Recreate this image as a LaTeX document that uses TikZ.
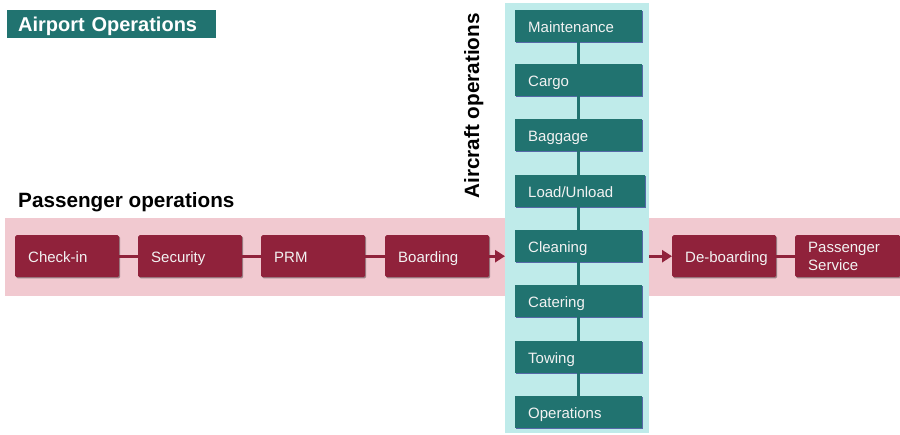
\documentclass[tikz,border=0pt]{standalone}
\usepackage{fontspec}
\setmainfont{Liberation Sans}
\usetikzlibrary{shadows,arrows.meta}
\definecolor{paxred}{HTML}{90223B}
\definecolor{paxband}{HTML}{F1C9D0}
\definecolor{acteal}{HTML}{217370}
\definecolor{acband}{HTML}{BFEBEA}
\definecolor{boxtext}{HTML}{F2F2F2}
\begin{document}
\begin{tikzpicture}[x=1pt,y=-1pt,
  paxbox/.style={fill=paxred, text=boxtext, rounded corners=1.5pt, anchor=north west,
    minimum height=42pt, text width=78pt, inner xsep=13pt, inner ysep=2pt, align=left,
    text height=13pt, text depth=1pt,
    font=\fontsize{15}{17}\selectfont,
    drop shadow={shadow xshift=1pt, shadow yshift=-1.2pt, fill=black, opacity=0.35}},
  acbox/.style={fill=acteal, text=boxtext, anchor=north west,
    minimum height=32pt, text width=101pt, inner xsep=13pt, inner ysep=2pt, align=left,
    text height=13pt, text depth=1pt,
    font=\fontsize{15}{17}\selectfont,
    drop shadow={shadow xshift=0.8pt, shadow yshift=-1.2pt, fill=blue!45!black, opacity=0.55}},
  paxlink/.style={draw=paxred, line width=3pt},
  paxarrow/.style={draw=paxred, line width=3pt, -{Triangle[length=10pt,width=12pt]}},
  aclink/.style={draw=acteal, line width=3pt},
  heading/.style={font=\bfseries\fontsize{20.7}{22}\selectfont, inner sep=0pt},
]
\useasboundingbox (0,0) rectangle (900,434);

% background bands
\node[fill=paxband, anchor=north west, minimum width=895pt, minimum height=78pt, inner sep=0pt] (band) at (5,218) {};
\node[fill=acband, anchor=north west, minimum width=144pt, minimum height=430pt, inner sep=0pt] (col) at (505,3) {};

% title
\node[fill=acteal, text=white, anchor=north west, minimum width=209pt, minimum height=28pt,
  text width=187pt, inner xsep=11pt, inner ysep=0pt, align=left,
  text height=16pt, text depth=0.6pt,
  font=\bfseries\fontsize{20}{22}\selectfont] (title) at (7,10) {Airport Operations};

% headings
\node[heading, anchor=base west] (paxhead) at (18,207) {Passenger operations};
\node[heading, rotate=90, anchor=base] (achead) at (479,106) {Aircraft operations};

% passenger process
\node[paxbox] (checkin)  at (15,235)  {Check-in};
\node[paxbox] (security) at (138,235) {Security};
\node[paxbox] (prm)      at (261,235) {PRM};
\node[paxbox] (boarding) at (385,235) {Boarding};
\node[paxbox] (deboard)  at (672,235) {\hbox to 78pt{De-boarding\hss}};
\node[paxbox, text width=79pt, text height=, text depth=, font=\fontsize{15}{17.5}\selectfont] (service) at (795,235) {Passenger\\Service};

% aircraft process
\node[acbox] (maint)    at (515,10)  {Maintenance};
\node[acbox] (cargo)    at (515,64)  {Cargo};
\node[acbox] (baggage)  at (515,119) {Baggage};
\node[acbox, text width=104pt] (load) at (515,175) {Load/Unload};
\node[acbox] (cleaning) at (515,230) {Cleaning};
\node[acbox] (catering) at (515,285) {Catering};
\node[acbox] (towing)   at (515,341) {Towing};
\node[acbox] (ops)      at (515,396) {Operations};

% connectors
\draw[paxlink] (checkin.east) -- (security.west);
\draw[paxlink] (security.east) -- (prm.west);
\draw[paxlink] (prm.east) -- (boarding.west);
\draw[paxlink] (deboard.east) -- (service.west);
\draw[paxarrow] (boarding.east) -- (col.west |- boarding.east);
\draw[paxarrow] (col.east |- deboard.west) -- (deboard.west);

\draw[aclink] (maint.south -| cargo.north) -- (cargo.north);
\draw[aclink] (cargo.south) -- (baggage.north);
\draw[aclink] (baggage.south) -- (baggage.south |- load.north);
\draw[aclink] (baggage.south |- load.south) -- (cleaning.north);
\draw[aclink] (cleaning.south) -- (catering.north);
\draw[aclink] (catering.south) -- (towing.north);
\draw[aclink] (towing.south) -- (ops.north);
\end{tikzpicture}
\end{document}
